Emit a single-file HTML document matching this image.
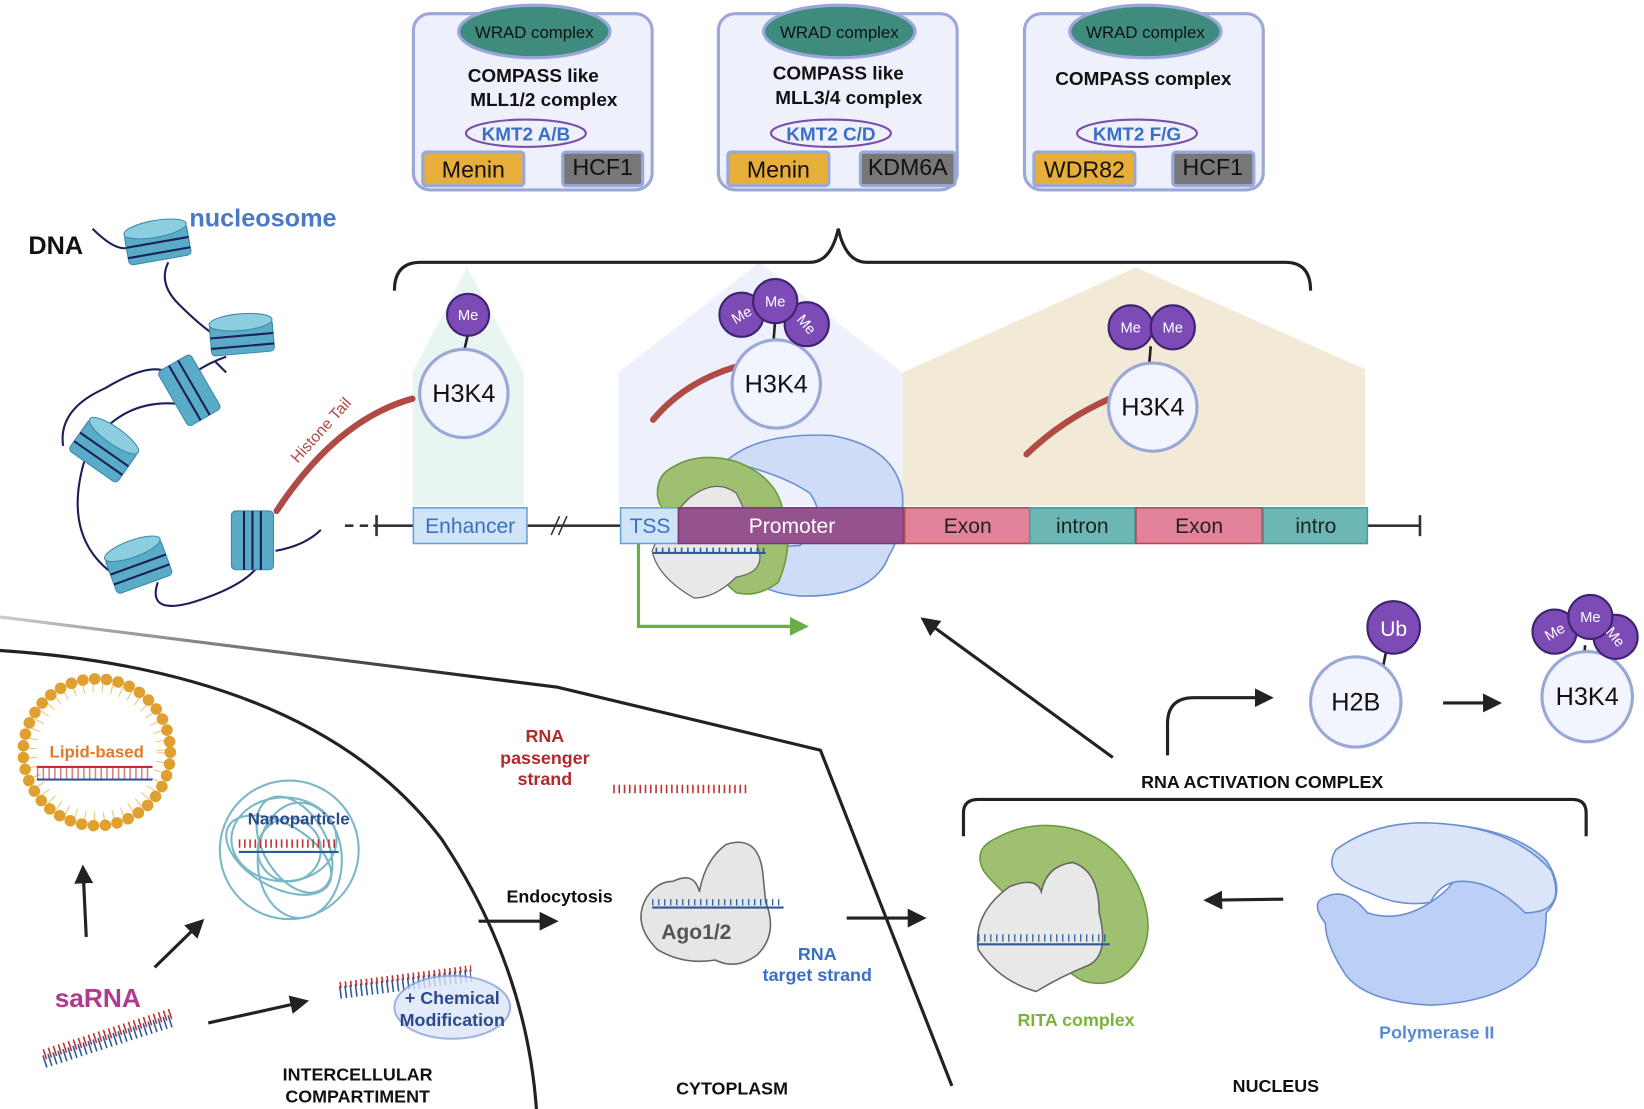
<!DOCTYPE html>
<html><head><meta charset="utf-8"><style>
html,body{margin:0;padding:0;background:#fff;}
svg{display:block;}
text{font-family:"Liberation Sans",sans-serif;}
</style></head><body>
<svg width="1644" height="1109" viewBox="0 0 1563 1057" preserveAspectRatio="none" xmlns="http://www.w3.org/2000/svg">
<defs>
<marker id="ah" markerWidth="6" markerHeight="6" refX="4" refY="3" orient="auto" markerUnits="strokeWidth"><path d="M0,0 L6,3 L0,6 z" fill="#222"/></marker>
<marker id="ag" markerWidth="6" markerHeight="6" refX="3" refY="3" orient="auto" markerUnits="strokeWidth"><path d="M0,0 L6,3 L0,6 z" fill="#6aad45"/></marker>
<linearGradient id="mem" x1="0" x2="1"><stop offset="0" stop-color="#ccc"/><stop offset="0.5" stop-color="#222"/></linearGradient>
</defs>

<polygon points="392,482 392,355 444,255 498,355 498,482" fill="#e4f2ec" opacity="0.8"/>
<polygon points="588,482 588,355 722,250 858,355 858,482" fill="#eef0fb"/>
<polygon points="858,482 858,355 1080,255 1298,352 1298,482" fill="#f2e9d6"/>

<g stroke="#9aa8d8" stroke-width="3">
<rect x="393" y="13" width="227" height="168" rx="16" fill="#eef1fb"/>
<rect x="683" y="13" width="227" height="168" rx="16" fill="#eef1fb"/>
<rect x="974" y="13" width="227" height="168" rx="16" fill="#eef1fb"/>
<ellipse cx="508" cy="30" rx="72" ry="25" fill="#3f8b7e"/>
<ellipse cx="798" cy="30" rx="72" ry="25" fill="#3f8b7e"/>
<ellipse cx="1089" cy="30" rx="72" ry="25" fill="#3f8b7e"/>
<rect x="402" y="145" width="96" height="32" rx="3" fill="#e8ae3a"/>
<rect x="535" y="145" width="76" height="32" rx="3" fill="#777"/>
<rect x="692" y="145" width="96" height="32" rx="3" fill="#e8ae3a"/>
<rect x="818" y="145" width="90" height="32" rx="3" fill="#777"/>
<rect x="983" y="145" width="96" height="32" rx="3" fill="#e8ae3a"/>
<rect x="1115" y="145" width="77" height="32" rx="3" fill="#777"/>
</g>
<g fill="none" stroke="#7a4ea8" stroke-width="2">
<ellipse cx="500" cy="127" rx="57" ry="13"/><ellipse cx="790" cy="127" rx="57" ry="13"/><ellipse cx="1081" cy="127" rx="57" ry="13"/>
</g>
<g font-size="16" text-anchor="middle" fill="#111">
<text x="508" y="36">WRAD complex</text><text x="798" y="36">WRAD complex</text><text x="1089" y="36">WRAD complex</text>
</g>
<g font-size="18" font-weight="bold" text-anchor="middle" fill="#111">
<text x="507" y="78">COMPASS like</text><text x="517" y="101">MLL1/2 complex</text>
<text x="797" y="76">COMPASS like</text><text x="807" y="99">MLL3/4 complex</text>
<text x="1087" y="81">COMPASS complex</text>
</g>
<g font-size="18" text-anchor="middle" fill="#3b6fc4" font-weight="bold">
<text x="500" y="134">KMT2 A/B</text><text x="790" y="134">KMT2 C/D</text><text x="1081" y="134">KMT2 F/G</text>
</g>
<g font-size="22" text-anchor="middle" fill="#111">
<text x="450" y="169">Menin</text><text x="573" y="167">HCF1</text>
<text x="740" y="169">Menin</text><text x="863" y="167">KDM6A</text>
<text x="1031" y="169">WDR82</text><text x="1153" y="167">HCF1</text>
</g>

<path d="M375,277 Q375,250 400,250 L770,250 Q790,250 797,218 Q804,250 824,250 L1222,250 Q1246,250 1246,277" fill="none" stroke="#222" stroke-width="3"/>

<path d="M88,218 Q110,240 122,236 M160,250 Q150,270 170,290 Q190,310 205,320 M215,340 Q200,345 185,355 M170,385 Q120,380 90,420 M80,440 Q60,510 105,545 M150,555 Q140,585 180,575 Q230,560 245,540 M262,525 Q290,520 305,505 M205,345 L215,355 M60,425 Q55,390 100,370 Q150,340 165,360" fill="none" stroke="#1e1e5a" stroke-width="2"/>
<g fill="#5aabc8" stroke="#3a8aaa" stroke-width="1">
<g transform="translate(150,233) rotate(-10)"><rect x="-30" y="-15" width="60" height="30" rx="4"/><ellipse cx="0" cy="-15" rx="30" ry="8" fill="#8ccde0"/><path d="M-30,-2 H30 M-30,8 H30" stroke="#1e1e5a" stroke-width="2"/></g>
<g transform="translate(230,322) rotate(-5)"><rect x="-30" y="-15" width="60" height="30" rx="4"/><ellipse cx="0" cy="-15" rx="30" ry="8" fill="#8ccde0"/><path d="M-30,-2 H30 M-30,8 H30" stroke="#1e1e5a" stroke-width="2"/></g>
<g transform="translate(180,372) rotate(60)"><rect x="-30" y="-18" width="60" height="36" rx="4"/><path d="M-30,-5 H30 M-30,5 H30" stroke="#1e1e5a" stroke-width="2"/></g>
<g transform="translate(98,430) rotate(35)"><rect x="-28" y="-18" width="56" height="36" rx="4"/><ellipse cx="0" cy="-18" rx="28" ry="8" fill="#8ccde0"/><path d="M-28,-2 H28 M-28,8 H28" stroke="#1e1e5a" stroke-width="2"/></g>
<g transform="translate(132,540) rotate(-20)"><rect x="-28" y="-18" width="56" height="36" rx="4"/><ellipse cx="0" cy="-18" rx="28" ry="8" fill="#8ccde0"/><path d="M-28,-2 H28 M-28,8 H28" stroke="#1e1e5a" stroke-width="2"/></g>
<g transform="translate(240,515) rotate(90)"><rect x="-28" y="-20" width="56" height="40" rx="4"/><path d="M-28,-8 H28 M-28,0 H28 M-28,8 H28" stroke="#1e1e5a" stroke-width="2"/></g>
</g>
<text x="27" y="242" font-size="24" font-weight="bold" fill="#111">DNA</text>
<text x="180" y="216" font-size="24" font-weight="bold" fill="#4a7ac4">nucleosome</text>

<g fill="none" stroke="#b04a45" stroke-width="6" stroke-linecap="round">
<path d="M263,487 Q320,400 392,380"/><path d="M621,400 Q650,365 698,350"/><path d="M976,433 Q1010,400 1055,380"/>
</g>
<text transform="translate(283,442) rotate(-48)" font-size="15" fill="#b04a45">Histone Tail</text>

<path d="M690,440 Q720,412 790,415 Q850,425 858,470 Q860,505 845,530 Q830,570 760,568 Q720,565 705,540 Q730,520 760,520 Q790,500 770,470 Q740,450 690,440 z" fill="#cfdcf7" stroke="#6a8fd0" stroke-width="1.5"/>
<path d="M640,445 Q665,430 700,440 Q740,455 745,490 Q755,520 740,555 Q720,570 700,565 Q670,540 660,510 Q625,490 625,470 Q625,452 640,445 z" fill="#9ec070" stroke="#6a9a40" stroke-width="1.5"/>
<path d="M655,475 Q680,455 700,470 Q715,500 720,520 Q730,545 700,550 Q680,570 660,570 Q625,550 620,525 Q630,500 655,475 z" fill="#e8e8e8" stroke="#666" stroke-width="1.2"/>
<path d="M621,527 H728" stroke="#2a5a9a" stroke-width="2"/>
<path d="M624,522 V527 M630,522 V527 M636,522 V527 M642,522 V527 M648,522 V527 M654,522 V527 M660,522 V527 M666,522 V527 M672,522 V527 M678,522 V527 M684,522 V527 M690,522 V527 M696,522 V527 M702,522 V527 M708,522 V527 M714,522 V527 M720,522 V527 M726,522 V527" stroke="#2a5a9a" stroke-width="1.5"/>
<path d="M607,518 V597 H760" fill="none" stroke="#6aad45" stroke-width="3" marker-end="url(#ag)"/>

<path d="M328,501 H336 M342,501 H350 M355,501 H393 M501,501 H590 M1300,501 H1350 M1350,491 V511 M358,491 V511" stroke="#333" stroke-width="2.5"/>
<path d="M524,510 L532,492 M531,510 L539,492" stroke="#333" stroke-width="1.5"/>
<g stroke-width="1.5">
<rect x="393" y="484" width="108" height="34" fill="#cfe4f7" stroke="#6aa0d8"/>
<rect x="590" y="484" width="55" height="34" fill="#cfe4f7" stroke="#6aa0d8"/>
<rect x="645" y="484" width="214" height="34" fill="#95528f" stroke="#7a3a7a"/>
<rect x="860" y="484" width="119" height="34" fill="#e3839a" stroke="#b04a55"/>
<rect x="979" y="484" width="100" height="34" fill="#6cb7b5" stroke="#4a9a98"/>
<rect x="1080" y="484" width="120" height="34" fill="#e3839a" stroke="#b04a55"/>
<rect x="1201" y="484" width="99" height="34" fill="#6cb7b5" stroke="#4a9a98"/>
</g>
<g font-size="20" text-anchor="middle">
<text x="447" y="508" fill="#3b6fc4">Enhancer</text><text x="618" y="508" fill="#3b6fc4">TSS</text>
<text x="753" y="508" fill="#fff">Promoter</text><text x="920" y="508" fill="#222">Exon</text>
<text x="1029" y="508" fill="#222">intron</text><text x="1140" y="508" fill="#222">Exon</text><text x="1251" y="508" fill="#222">intro</text>
</g>

<g stroke="#222" stroke-width="2.5"><path d="M445,318 L440,340 M737,305 L735,330 M1094,330 L1092,355 M1318,620 L1313,645 M1507,615 L1505,640"/></g>
<g fill="#f2f5fd" stroke="#9aa8d8" stroke-width="3">
<circle cx="441" cy="375" r="42"/><circle cx="738" cy="366" r="42"/><circle cx="1096" cy="388" r="42"/>
<circle cx="1289" cy="669" r="43"/><circle cx="1509" cy="664" r="43"/>
</g>
<g font-size="24" text-anchor="middle" fill="#111">
<text x="441" y="383">H3K4</text><text x="738" y="374">H3K4</text><text x="1096" y="396">H3K4</text>
<text x="1289" y="677">H2B</text><text x="1509" y="672">H3K4</text>
</g>
<g fill="#7d4bb5" stroke="#3d2370" stroke-width="2">
<circle cx="445" cy="300" r="20"/>
<circle cx="705" cy="300" r="21"/><circle cx="767" cy="309" r="21"/><circle cx="737" cy="287" r="21"/>
<circle cx="1075" cy="312" r="21"/><circle cx="1115" cy="312" r="21"/>
<circle cx="1325" cy="598" r="25"/>
<circle cx="1478" cy="602" r="21"/><circle cx="1536" cy="607" r="21"/><circle cx="1512" cy="588" r="21"/>
</g>
<g font-size="14" text-anchor="middle" fill="#fff">
<text x="445" y="305">Me</text>
<text x="705" y="305" transform="rotate(-30 705 300)">Me</text><text x="737" y="292">Me</text><text x="767" y="314" transform="rotate(50 767 309)">Me</text>
<text x="1075" y="317">Me</text><text x="1115" y="317">Me</text>
<text x="1325" y="606" font-size="20">Ub</text>
<text x="1478" y="607" transform="rotate(-30 1478 602)">Me</text><text x="1512" y="593">Me</text><text x="1536" y="612" transform="rotate(50 1536 607)">Me</text>
</g>

<path d="M0,588 L530,655 L780,715 L905,1035" fill="none" stroke="url(#mem)" stroke-width="3"/>
<path d="M0,620 Q300,640 420,800 Q500,920 510,1057" fill="none" stroke="#222" stroke-width="3"/>

<circle cx="92" cy="717" r="62" fill="#fff" stroke="#e8b84a" stroke-width="10" stroke-dasharray="1 8" opacity="0.8"/>
<circle cx="92" cy="717" r="70" fill="none" stroke="#e0a030" stroke-width="11" stroke-dasharray="0.1 11.2" stroke-linecap="round"/>
<text x="92" y="722" font-size="16" font-weight="bold" text-anchor="middle" fill="#e07a2a">Lipid-based</text>
<path d="M35,731 H145" stroke="#c03030" stroke-width="2"/><path d="M35,743 H145" stroke="#2a5a9a" stroke-width="2"/>
<path d="M35,731 H145" stroke="#c03030" stroke-width="10" stroke-dasharray="1.5 4" transform="translate(0,6)" opacity="0.6"/>
<g fill="none" stroke="#7ab8c8" stroke-width="2">
<circle cx="275" cy="810" r="66"/><ellipse cx="270" cy="800" rx="50" ry="40"/><ellipse cx="285" cy="820" rx="40" ry="55"/><ellipse cx="265" cy="815" rx="55" ry="30" transform="rotate(30 265 815)"/><ellipse cx="280" cy="805" rx="30" ry="50" transform="rotate(-30 280 805)"/><circle cx="275" cy="810" r="30"/>
</g>
<text x="284" y="786" font-size="16" font-weight="bold" text-anchor="middle" fill="#2a4a8a">Nanoparticle</text>
<path d="M227,804 H322" stroke="#c03030" stroke-width="8" stroke-dasharray="1.5 3.5"/><path d="M227,812 H322" stroke="#2a5a9a" stroke-width="2"/>

<text x="52" y="960" font-size="25" font-weight="bold" fill="#b03a8c">saRNA</text>
<path d="M42,1012 L163,973" stroke="#2a5a9a" stroke-width="12" stroke-dasharray="1.5 3.5"/><path d="M42,1005 L163,966" stroke="#c03030" stroke-width="10" stroke-dasharray="1.5 3.5"/>
<path d="M323,946 L448,930" stroke="#2a5a9a" stroke-width="12" stroke-dasharray="1.5 3.5"/><path d="M323,939 L448,923" stroke="#c03030" stroke-width="6" stroke-dasharray="1.5 3.5"/>
<ellipse cx="430" cy="960" rx="55" ry="30" fill="#dde6f8" stroke="#8ca0d8" stroke-width="2" opacity="0.8"/>
<text x="430" y="957" font-size="17" font-weight="bold" text-anchor="middle" fill="#2a4a8a">+ Chemical</text>
<text x="430" y="978" font-size="17" font-weight="bold" text-anchor="middle" fill="#2a4a8a">Modification</text>

<g stroke="#222" stroke-width="3" fill="none" marker-end="url(#ah)">
<path d="M82,893 L79,830"/><path d="M147,922 L190,880"/><path d="M198,975 L288,955"/>
<path d="M455,878 L525,878"/><path d="M805,875 L875,875"/><path d="M1220,857 L1150,858"/>
<path d="M1058,722 L880,592"/><path d="M1110,720 V690 Q1110,665 1135,665 L1205,665"/><path d="M1372,670 L1422,670"/>
</g>

<g font-size="17" font-weight="bold" text-anchor="middle">
<text x="518" y="707" fill="#b02a2a">RNA</text><text x="518" y="728" fill="#b02a2a">passenger</text><text x="518" y="748" fill="#b02a2a">strand</text>
<text x="532" y="860" fill="#111">Endocytosis</text>
<text x="777" y="915" fill="#3b6fc4">RNA</text><text x="777" y="935" fill="#3b6fc4">target strand</text>
<text x="1200" y="751" fill="#111">RNA ACTIVATION COMPLEX</text>
<text x="1023" y="978" fill="#7ab23a">RITA complex</text>
<text x="1366" y="990" fill="#5a8ad0">Polymerase II</text>
<text x="340" y="1030" fill="#111">INTERCELLULAR</text><text x="340" y="1051" fill="#111">COMPARTIMENT</text>
<text x="696" y="1043" fill="#111">CYTOPLASM</text><text x="1213" y="1041" fill="#111">NUCLEUS</text>
</g>
<path d="M583,752 H710" stroke="#c03030" stroke-width="8" stroke-dasharray="1.5 3.5"/>

<path d="M640,840 Q660,830 665,850 Q670,820 690,805 Q720,795 725,830 L728,860 Q740,890 720,910 Q700,925 680,915 Q650,920 625,905 Q600,880 615,855 Q625,840 640,840 z" fill="#e6e6e6" stroke="#666" stroke-width="1.5"/>
<path d="M620,865 H745" stroke="#2a5a9a" stroke-width="2"/><path d="M620,860 H745" stroke="#2a5a9a" stroke-width="6" stroke-dasharray="1.2 4.5"/>
<text x="662" y="895" font-size="20" font-weight="bold" text-anchor="middle" fill="#555">Ago1/2</text>

<path d="M916,797 V775 Q916,762 930,762 L1495,762 Q1508,762 1508,775 V797" fill="none" stroke="#222" stroke-width="3"/>

<path d="M945,800 Q980,780 1020,790 Q1060,800 1080,840 Q1100,880 1085,910 Q1065,945 1030,935 Q1000,920 990,880 Q950,850 935,830 Q925,810 945,800 z" fill="#9ec070" stroke="#6a9a40" stroke-width="1.5"/>
<path d="M960,845 Q985,835 990,850 Q995,825 1020,822 Q1045,830 1045,870 Q1055,910 1035,920 Q1010,930 985,945 Q950,935 930,905 Q925,870 960,845 z" fill="#e8e8e8" stroke="#666" stroke-width="1.5"/>
<path d="M930,900 H1055" stroke="#2a5a9a" stroke-width="2"/><path d="M930,894 H1055" stroke="#2a5a9a" stroke-width="7" stroke-dasharray="1.2 4.5"/>

<path d="M1270,810 Q1310,780 1370,785 Q1440,790 1470,820 Q1490,850 1470,870 Q1470,900 1460,920 Q1430,955 1360,958 Q1300,955 1280,930 Q1260,900 1260,880 Q1245,860 1260,855 Q1280,845 1300,870 Q1330,880 1360,860 Q1390,840 1380,830 Q1350,810 1300,830 Q1260,840 1270,810 z" fill="#bcd0f5" stroke="#6a8fd0" stroke-width="1.5"/>
<path d="M1270,810 Q1310,780 1370,785 Q1440,790 1475,830 Q1490,870 1450,870 Q1420,840 1390,840 Q1370,840 1360,860 Q1330,865 1300,850 Q1255,835 1270,810 z" fill="#dbe5fa" stroke="#6a8fd0" stroke-width="1.5"/>
</svg>
</body></html>
